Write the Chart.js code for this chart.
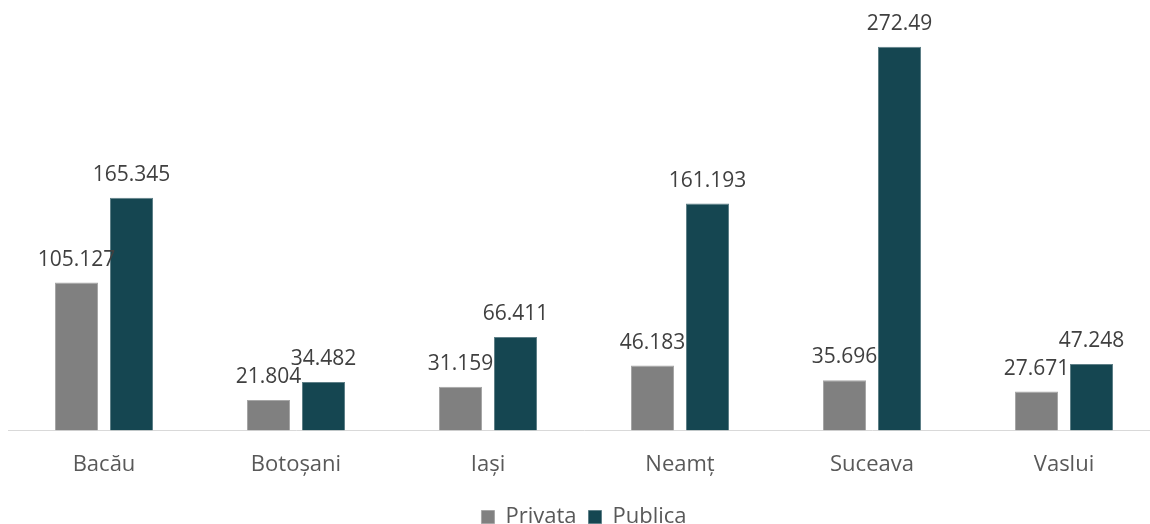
<!DOCTYPE html>
<html>
<head>
<meta charset="utf-8">
<script src="https://cdn.jsdelivr.net/npm/chart.js@4.4.1/dist/chart.umd.min.js"></script>
<style>
    html, body { margin: 0; padding: 0; background: #fff; overflow: hidden; }
    #wrap { width: 1150px; height: 524px; overflow: hidden; }
</style>
</head>
<body>
<div id="wrap"><canvas id="judete_chart" width="1160" height="524"></canvas></div>
<script>
const judete = ['Bacău', 'Botoșani', 'Iași', 'Neamț', 'Suceava', 'Vaslui'];
const privata = [105.127, 21.804, 31.159, 46.183, 35.696, 27.671];
const publica = [165.345, 34.482, 66.411, 161.193, 272.49, 47.248];

const fontFam = '"Open Sans", sans-serif';

// etichete cu valoarea deasupra fiecarei coloane
const etichete = {
    id: 'etichete',
    afterDatasetsDraw(chart) {
        const ctx = chart.ctx;
        ctx.save();
        ctx.font = '21px ' + fontFam;
        ctx.fillStyle = '#404040';
        ctx.textAlign = 'center';
        ctx.textBaseline = 'alphabetic';
        chart.data.datasets.forEach((ds, i) => {
            chart.getDatasetMeta(i).data.forEach((bar, j) => {
                ctx.fillText(String(ds.data[j]), bar.x, bar.y - 17);
            });
        });
        ctx.restore();
    }
};

document.addEventListener('DOMContentLoaded', function() {
    const ctx = document.getElementById('judete_chart').getContext('2d');
    new Chart(ctx, {
        type: 'bar',
        data: {
            labels: judete,
            datasets: [{
                label: 'Privata',
                data: privata,
                backgroundColor: '#808080',
                borderColor: '#a6a6a6',
                borderWidth: 1
            }, {
                label: 'Publica',
                data: publica,
                backgroundColor: '#154651',
                borderColor: '#5f8088',
                borderWidth: 1
            }]
        },
        plugins: [etichete],
        options: {
            responsive: false,
            animation: false,
            categoryPercentage: 0.573,
            barPercentage: 0.782,
            layout: { padding: { left: 8, right: 0, top: 8, bottom: -14 } },
            plugins: {
                legend: {
                    display: true,
                    position: 'bottom',
                    labels: {
                        color: '#595959',
                        font: { family: fontFam, size: 22 },
                        boxWidth: 13,
                        boxHeight: 13,
                        padding: 12
                    }
                },
                tooltip: { enabled: false }
            },
            scales: {
                x: {
                    grid: { display: false },
                    border: { display: true, color: '#d9d9d9', width: 1 },
                    ticks: {
                        color: '#595959',
                        font: { family: fontFam, size: 22 },
                        padding: 13
                    },
                    afterFit: function(scale) { scale.height += 3; }
                },
                y: {
                    display: false,
                    min: 0,
                    max: 300
                }
            }
        }
    });
});
</script>
</body>
</html>
